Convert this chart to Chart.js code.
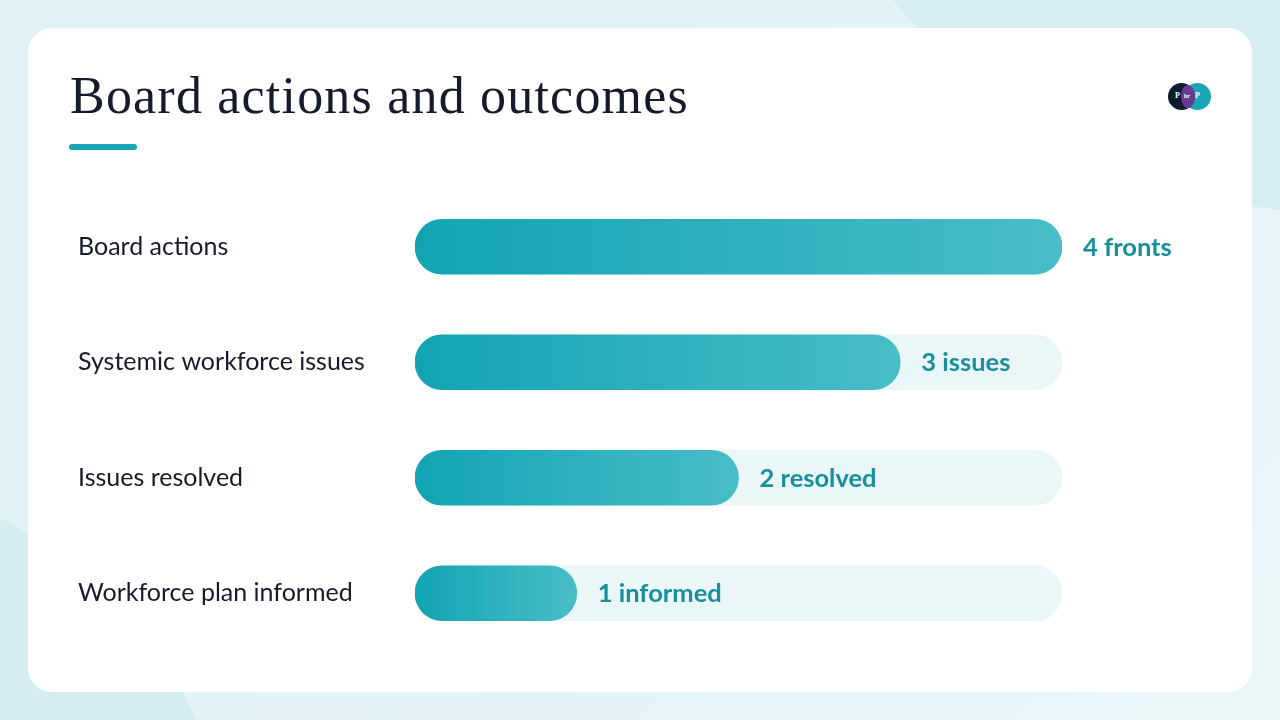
<!DOCTYPE html>
<html><head><meta charset="utf-8">
<script src="https://cdn.jsdelivr.net/npm/chart.js@4.4.1/dist/chart.umd.min.js"></script>
<style>
html,body{margin:0;padding:0;width:1280px;height:720px;overflow:hidden;}
body{position:relative;background:linear-gradient(135deg,#e0f2f5 0%,#e3f3f6 60%,#ebf6f8 100%);font-family:Lato,sans-serif;}
.blob{position:absolute;border-radius:50%;}
#b1{left:767px;top:-914px;width:1166px;height:1128px;background:#d6eef2;}
#b2{left:-640px;top:470px;width:880px;height:880px;background:#d5ecf1;}
#card{position:absolute;left:28px;top:28px;width:1224px;height:664px;background:#fff;border-radius:24px;}
#title{position:absolute;left:70px;top:70px;font-family:"Liberation Serif",serif;font-size:52px;line-height:52px;letter-spacing:1.2px;color:#161b2b;white-space:nowrap;}
#accent{position:absolute;left:69px;top:144px;width:68px;height:6px;border-radius:3px;background:#17a6b5;}
#logo{position:absolute;left:1168px;top:83px;width:43px;height:27px;}
#logo .c{position:absolute;top:0;width:27px;height:27px;border-radius:50%;}
#logo .lens{position:absolute;left:13px;top:2px;width:14px;height:23px;border-radius:50%;background:#6a3a92;}
#logo span{position:absolute;color:#fff;font-size:8px;font-weight:700;font-family:"Liberation Serif",serif;top:8px;}
#wrap{position:absolute;left:78px;top:174px;width:1122px;height:492px;}
</style></head>
<body>
<div class="blob" id="b1"></div>
<div class="blob" id="b2"></div>
<div id="card"></div>
<div id="title">Board actions and outcomes</div>
<div id="accent"></div>
<div id="logo">
  <div class="c" style="left:0;background:#0f1c2e"></div>
  <div class="c" style="left:16px;background:#1ba6b6"></div>
  <div class="lens"></div>
  <span style="left:7px">P</span><span style="left:16px;font-size:6px;top:10px">hr</span><span style="left:27px">P</span>
</div>
<div id="wrap"><canvas id="c"></canvas></div>
<script>
const categories = ["Board actions", "Systemic workforce issues", "Issues resolved", "Workforce plan informed"];
const values = [4, 3, 2, 1];
const valueUnits = ["fronts", "issues", "resolved", "informed"];
const scaleMax = 4;

const trackValues = categories.map(() => scaleMax);
const valueLabels = values.map((v, i) => v + " " + valueUnits[i]);

const valueLabelPlugin = {
  id: 'valueLabels',
  afterDatasetsDraw(chart) {
    const meta = chart.getDatasetMeta(0);
    const ctx = chart.ctx;
    ctx.save();
    ctx.font = '700 25.5px Lato';
    ctx.fillStyle = '#17909c';
    ctx.textBaseline = 'middle';
    ctx.textAlign = 'left';
    meta.data.forEach((bar, i) => {
      ctx.fillText(valueLabels[i], bar.x + 21, bar.y + 1);
    });
    ctx.restore();
  }
};

function barGradient(context) {
  const chart = context.chart;
  if (!chart.chartArea || context.raw === undefined) return '#1fa9b6';
  const xs = chart.scales.x;
  const x0 = xs.getPixelForValue(0);
  const x1 = xs.getPixelForValue(context.raw);
  const g = chart.ctx.createLinearGradient(x0, 0, x1, 0);
  g.addColorStop(0, '#12a4b2');
  g.addColorStop(1, '#48bdc7');
  return g;
}

new Chart(document.getElementById('c'), {
  type: 'bar',
  data: {
    labels: categories,
    datasets: [
      {
        data: values,
        backgroundColor: barGradient,
        borderRadius: 28,
        borderSkipped: false,
        barThickness: 55,
        grouped: false,
        order: 0
      },
      {
        data: trackValues,
        backgroundColor: '#eaf6f8',
        borderRadius: 28,
        borderSkipped: false,
        barThickness: 55,
        grouped: false,
        order: 1
      }
    ]
  },
  options: {
    indexAxis: 'y',
    responsive: true,
    maintainAspectRatio: false,
    animation: false,
    events: [],
    layout: { padding: { left: 0, right: 138, top: 0, bottom: 0 } },
    plugins: { legend: { display: false }, tooltip: { enabled: false } },
    scales: {
      x: { display: false, min: 0, max: scaleMax },
      y: {
        grid: { display: false },
        border: { display: false },
        ticks: {
          crossAlign: 'far',
          color: '#161b2b',
          font: { family: 'Lato', size: 25 },
          padding: 0
        },
        afterFit(scale) { scale.width = 337; }
      }
    }
  },
  plugins: [valueLabelPlugin]
});
</script>
</body></html>
